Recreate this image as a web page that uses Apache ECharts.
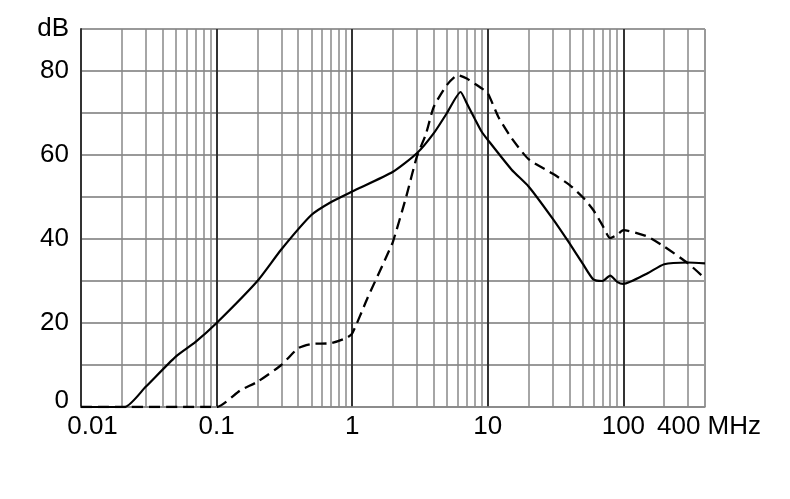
<!DOCTYPE html>
<html>
<head>
<meta charset="utf-8">
<script src="https://cdn.jsdelivr.net/npm/echarts@6/dist/echarts.min.js"></script>
<style>
html,body{margin:0;padding:0;background:#fff;}
#chart{width:790px;height:499px;}
</style>
</head>
<body>
<div id="chart"></div>
<script>
// Frequencies (MHz) and attenuation (dB)
const solidFreq = [0.01, 0.021, 0.03, 0.05, 0.07, 0.1, 0.2, 0.3, 0.5, 0.7, 1, 2, 3, 4, 5, 6.3, 7, 8, 9, 10, 15, 20, 30, 40, 50, 60, 70, 80, 90, 100, 150, 200, 300, 400];
const solidDb   = [0, 0, 4.8, 12, 15.5, 20, 30, 37.5, 45.7, 48.8, 51.3, 56, 60.4, 65.2, 70, 75, 72.3, 68.7, 65.6, 63.6, 56.5, 52.5, 44.9, 39, 34.2, 30.4, 30, 31.3, 29.8, 29.3, 31.8, 34, 34.4, 34.2];
const dashFreq  = [0.01, 0.1, 0.15, 0.2, 0.3, 0.4, 0.5, 0.7, 0.9, 1, 1.3, 1.8, 2, 2.5, 3, 3.5, 4, 5, 6, 7, 8, 9, 10, 12, 15, 20, 30, 40, 50, 60, 70, 80, 90, 100, 150, 200, 300, 400];
const dashDb    = [0, 0, 4, 6, 10, 14, 15, 15.2, 16.4, 17.5, 26, 36, 39.4, 50, 59.6, 65, 71.5, 76.7, 79, 78.2, 77, 75.9, 74.7, 69, 64, 59, 55.6, 52.9, 50, 46.9, 43.3, 40.2, 41, 42.1, 40.6, 38.2, 34.2, 30.6];
// Minor vertical grid lines (2..9 of each decade)
const minorGrid = [0.02,0.03,0.04,0.05,0.06,0.07,0.08,0.09,
                   0.2,0.3,0.4,0.5,0.6,0.7,0.8,0.9,
                   2,3,4,5,6,7,8,9,
                   20,30,40,50,60,70,80,90,
                   200,300];
const xMin = 0.01, xMax = 400;
const yMin = 0, yMax = 90, yStep = 10;

const font = 'Liberation Sans, Arial, sans-serif';
const fs = 26;
const chart = echarts.init(document.getElementById('chart'), null, {renderer: 'canvas'});
const pairs = (xs, ys) => xs.map((x, i) => [x, ys[i]]);

chart.setOption({
  animation: false,
  backgroundColor: '#fff',
  grid: {left: 81, right: 85, top: 29, bottom: 92, containLabel: false},
  xAxis: {
    type: 'log', logBase: 10, min: xMin, max: xMax,
    axisLine: {show: true, lineStyle: {color: '#888', width: 1.5}},
    axisTick: {show: false},
    splitLine: {show: true, lineStyle: {color: ['#333','#333','#333','#333','#333','#999'], width: 2}},
    axisLabel: {
      show: true, showMinLabel: true, showMaxLabel: true,
      color: '#000', fontFamily: font, fontSize: fs, margin: 7,
      formatter: function (v) {
        const r = Math.round(v * 1000) / 1000;
        if (Math.abs(r - 0.01) < 1e-6) return '{m|0.01}';
        if (Math.abs(r - 400) < 1) return '{u|400 MHz}';
        return String(r);
      },
      rich: {
        m: {fontFamily: font, fontSize: fs, color: '#000', padding: [0, 0, 0, 23]},
        u: {fontFamily: font, fontSize: fs, color: '#000', padding: [0, 0, 0, 8]}
      }
    }
  },
  yAxis: {
    type: 'value', min: yMin, max: yMax, interval: yStep,
    axisLine: {show: true, lineStyle: {color: '#333', width: 2}},
    axisTick: {show: false},
    splitLine: {show: true, lineStyle: {color: '#777', width: 1.5}},
    axisLabel: {
      color: '#000', fontFamily: font, fontSize: fs, margin: 12,
      showMinLabel: true, showMaxLabel: true,
      formatter: function (v) {
        if (v === 90) return 'dB';
        if (v === 0) return '{z|0}';
        return v % 20 === 0 ? String(v) : '';
      },
      rich: {z: {fontFamily: font, fontSize: fs, color: '#000', padding: [0, 0, 12, 0]}}
    }
  },
  series: [
    {
      type: 'line', name: 'solid', data: pairs(solidFreq, solidDb),
      showSymbol: false, smooth: 0.2,
      lineStyle: {color: '#000', width: 2.2}, z: 5,
      markLine: {
        silent: true, symbol: 'none', label: {show: false},
        lineStyle: {color: '#888', width: 1.5, type: 'solid'},
        data: minorGrid.map(v => ({xAxis: v})),
        z: 1
      }
    },
    {
      type: 'line', name: 'dashed', data: pairs(dashFreq, dashDb),
      showSymbol: false, smooth: 0.2,
      lineStyle: {color: '#000', width: 2.3, type: [11, 6]}, z: 5
    }
  ]
});
</script>
</body>
</html>
